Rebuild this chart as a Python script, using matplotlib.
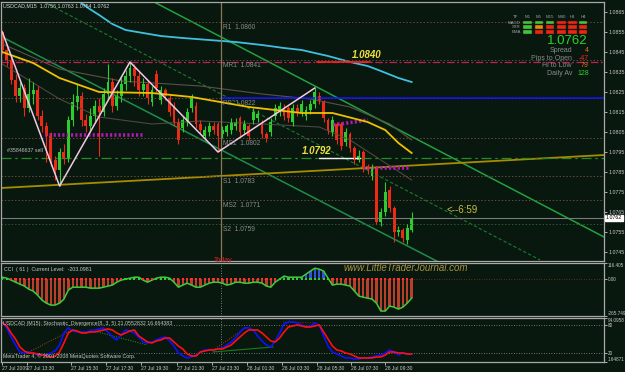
import numpy as np
import matplotlib
matplotlib.use('Agg')
import matplotlib.pyplot as plt
import matplotlib.transforms as mtransforms
from matplotlib.patches import Rectangle

plt.rcParams['font.family'] = ['Liberation Sans', 'DejaVu Sans']

# USDCAD M15 svece, bar 0..93
opens = [1.0855, 1.0846, 1.0841, 1.0831, 1.0823, 1.0827, 1.0817, 1.0824, 1.0826, 1.0813,
         1.0808, 1.0803, 1.0791, 1.0786, 1.0795, 1.0792, 1.0811, 1.0820, 1.0823, 1.0811,
         1.0808, 1.0813, 1.0818, 1.0815, 1.0824, 1.0830, 1.0818, 1.0823, 1.0829, 1.0833,
         1.0837, 1.0833, 1.0826, 1.0829, 1.0820, 1.0834, 1.0821, 1.0826, 1.0822, 1.0818,
         1.0810, 1.0807, 1.0810, 1.0817, 1.0818, 1.0809, 1.0803, 1.0805, 1.0808, 1.0809,
         1.0804, 1.0805, 1.0806, 1.0808, 1.0812, 1.0806, 1.0808, 1.0811, 1.0812, 1.0809,
         1.0804, 1.0805, 1.0813, 1.0815, 1.0817, 1.0817, 1.0810, 1.0817, 1.0815, 1.0813,
         1.0816, 1.0819, 1.0823, 1.0820, 1.0811, 1.0805, 1.0809, 1.0809, 1.0800, 1.0804,
         1.0797, 1.0791, 1.0795, 1.0788, 1.0783, 1.0787, 1.0760, 1.0765, 1.0776, 1.0767,
         1.0755, 1.0756, 1.0751, 1.0756]
closes = [1.0846, 1.0841, 1.0831, 1.0823, 1.0827, 1.0817, 1.0824, 1.0826, 1.0813, 1.0808,
          1.0803, 1.0791, 1.0786, 1.0795, 1.0792, 1.0811, 1.0820, 1.0823, 1.0811, 1.0808,
          1.0813, 1.0818, 1.0815, 1.0824, 1.0830, 1.0818, 1.0823, 1.0829, 1.0833, 1.0837,
          1.0833, 1.0826, 1.0829, 1.0822, 1.0826, 1.0827, 1.0826, 1.0823, 1.0815, 1.0810,
          1.0801, 1.0811, 1.0815, 1.0822, 1.0809, 1.0806, 1.0806, 1.0808, 1.0806, 1.0803,
          1.0806, 1.0808, 1.0810, 1.0810, 1.0805, 1.0809, 1.0803, 1.0815, 1.0814, 1.0804,
          1.0802, 1.0810, 1.0817, 1.0818, 1.0813, 1.0812, 1.0817, 1.0815, 1.0819, 1.0816,
          1.0819, 1.0825, 1.0821, 1.0812, 1.0806, 1.0811, 1.0801, 1.0798, 1.0805, 1.0797,
          1.0791, 1.0793, 1.0787, 1.0786, 1.0787, 1.0760, 1.0765, 1.0775, 1.0767, 1.0755,
          1.0756, 1.0752, 1.0757, 1.0762]
highs = [1.0856, 1.0849, 1.0843, 1.0834, 1.0830, 1.0829, 1.0832, 1.0830, 1.0828, 1.0816,
         1.0810, 1.0805, 1.0793, 1.0797, 1.0799, 1.0813, 1.0824, 1.0829, 1.0825, 1.0814,
         1.0817, 1.0821, 1.0822, 1.0827, 1.0839, 1.0832, 1.0826, 1.0832, 1.0836, 1.0840,
         1.0839, 1.0835, 1.0832, 1.0831, 1.0828, 1.0836, 1.0828, 1.0827, 1.0824, 1.0820,
         1.0812, 1.0813, 1.0817, 1.0824, 1.0820, 1.0811, 1.0808, 1.0810, 1.0810, 1.0810,
         1.0808, 1.0809, 1.0812, 1.0812, 1.0813, 1.0811, 1.0809, 1.0817, 1.0816, 1.0811,
         1.0805, 1.0812, 1.0819, 1.0820, 1.0819, 1.0818, 1.0819, 1.0819, 1.0821, 1.0818,
         1.0821, 1.0827, 1.0825, 1.0821, 1.0812, 1.0813, 1.0810, 1.0810, 1.0807, 1.0805,
         1.0798, 1.0796, 1.0796, 1.0789, 1.0789, 1.0788, 1.0767, 1.0780, 1.0778, 1.0768,
         1.0758, 1.0757, 1.0759, 1.0765]
lows = [1.0844, 1.0838, 1.0829, 1.0820, 1.0820, 1.0813, 1.0815, 1.0819, 1.0811, 1.0805,
        1.0790, 1.0788, 1.0781, 1.0778, 1.0789, 1.0790, 1.0808, 1.0816, 1.0808, 1.0805,
        1.0806, 1.0810, 1.0793, 1.0813, 1.0822, 1.0815, 1.0816, 1.0820, 1.0826, 1.0830,
        1.0828, 1.0823, 1.0823, 1.0819, 1.0818, 1.0825, 1.0819, 1.0821, 1.0813, 1.0808,
        1.0799, 1.0805, 1.0808, 1.0815, 1.0807, 1.0804, 1.0801, 1.0803, 1.0804, 1.0795,
        1.0802, 1.0803, 1.0804, 1.0806, 1.0803, 1.0804, 1.0801, 1.0809, 1.0810, 1.0802,
        1.0800, 1.0803, 1.0811, 1.0813, 1.0811, 1.0810, 1.0808, 1.0813, 1.0813, 1.0811,
        1.0814, 1.0817, 1.0819, 1.0810, 1.0804, 1.0803, 1.0799, 1.0796, 1.0798, 1.0795,
        1.0789, 1.0790, 1.0785, 1.0784, 1.0781, 1.0759, 1.0758, 1.0763, 1.0765, 1.0750,
        1.0753, 1.0750, 1.0749, 1.0755]

# CCI(61)
cci = [14, 7, -7, -22, -36, -50, -72, -86, -115, -151,
       -173, -187, -187, -173, -144, -79, -58, -58, -58, -58,
       -65, -65, -65, -58, -50, -43, -22, -7, 0, 7,
       14, 14, -7, -22, -7, 7, 14, 14, 7, -22,
       -58, -43, -29, -43, -58, -58, -43, -29, -22, -22,
       -29, -43, -36, -22, -22, -29, -29, -22, -22, -29,
       -50, -58, -22, 0, 22, 14, 14, 14, 14, 36,
       58, 79, 72, 58, 7, -43, -36, -36, -43, -50,
       -86, -122, -130, -137, -144, -173, -230, -230, -194, -202,
       -216, -202, -173, -137]

# Stochastic %K (plava) i %D (crvena)
stoch_k = [85.7, 73.1, 54.2, 37.4, 22.7, 20.6, 22.7, 20.6, 16.4, 16.4,
           16.4, 20.6, 24.8, 37.4, 62.6, 73.1, 66.8, 64.7, 64.7, 64.7,
           66.8, 68.9, 71.0, 73.1, 64.7, 54.2, 47.9, 58.4, 68.9, 66.8,
           62.6, 54.2, 43.7, 41.6, 43.7, 47.9, 52.1, 54.2, 45.8, 35.3,
           20.6, 14.3, 10.1, 12.2, 16.4, 22.7, 26.9, 26.9, 26.9, 29.0,
           31.1, 37.4, 43.7, 52.1, 64.7, 73.1, 73.1, 68.9, 56.3, 45.8,
           37.4, 33.2, 45.8, 62.6, 81.5, 85.7, 85.7, 83.6, 79.4, 75.2,
           77.3, 83.6, 79.4, 56.3, 35.3, 22.7, 18.5, 14.3, 10.1, 10.1,
           8.0, 8.0, 10.1, 10.1, 12.2, 14.3, 16.4, 20.6, 26.9, 22.7,
           16.4, 20.6, 18.5, 18.5]
stoch_d = [83.6, 77.3, 62.6, 50.0, 33.2, 24.8, 20.6, 20.6, 18.5, 16.4,
           14.3, 12.2, 14.3, 22.7, 41.6, 62.6, 68.9, 66.8, 62.6, 62.6,
           64.7, 64.7, 66.8, 68.9, 71.0, 68.9, 62.6, 58.4, 62.6, 66.8,
           68.9, 56.3, 50.0, 43.7, 41.6, 45.8, 47.9, 52.1, 52.1, 43.7,
           35.3, 29.0, 18.5, 14.3, 14.3, 22.7, 24.8, 26.9, 26.9, 29.0,
           29.0, 33.2, 37.4, 45.8, 54.2, 62.6, 68.9, 68.9, 68.9, 62.6,
           54.2, 45.8, 43.7, 52.1, 64.7, 75.2, 77.3, 79.4, 77.3, 75.2,
           75.2, 77.3, 79.4, 64.7, 50.0, 35.3, 26.9, 24.8, 20.6, 18.5,
           14.3, 10.1, 10.1, 10.1, 10.1, 12.2, 12.2, 16.4, 22.7, 22.7,
           20.6, 20.6, 18.5, 18.5]

# zigzag i pokretni proseci (bar, cena)
zz_bars = [0, 13, 29, 49, 71]
zz_prices = [1.0855, 1.0778, 1.0840, 1.0795, 1.0827]
ma_yel_bars = [0, 7, 13, 22, 34, 43, 56, 68, 75, 83, 87, 90, 93]
ma_yel_vals = [1.0845, 1.08395, 1.0832, 1.0825, 1.08245, 1.08225, 1.08175, 1.08145, 1.08145, 1.0810, 1.0806, 1.07995, 1.07945]
ma_cyan_bars = [17, 19.5, 22, 25, 28, 32, 36, 41, 47, 53, 59, 64, 68, 74, 79, 83, 86, 90, 93]
ma_cyan_vals = [1.0871, 1.0867, 1.08635, 1.0859, 1.0856, 1.08545, 1.0853, 1.0852, 1.0851, 1.085,
                1.08485, 1.0847, 1.0846, 1.0843, 1.0840, 1.0838, 1.08355, 1.0832, 1.0830]
env_up_bars = [0, 13, 27, 45, 59, 70, 79, 88, 93]
env_up_vals = [1.0849, 1.08365, 1.08305, 1.0828, 1.0824, 1.08215, 1.08175, 1.0809, 1.0801]
env_lo_bars = [0, 13, 22, 34, 45, 59, 72, 79, 86, 93]
env_lo_vals = [1.0839, 1.08215, 1.08125, 1.0809, 1.08105, 1.0809, 1.08075, 1.0801, 1.0791, 1.0781]

# trend linije (bar, cena)
ch_upper = ([33.6, 136.7], [1.0871, 1.07525])
ch_lower = ([-0.5, 100.0], [1.0853, 1.0739])
ch_mid = ([8.6, 122.2], [1.0871, 1.0741])
olive_line = ([-0.3, 136.7], [1.0777, 1.07935])

pivots = [('R1', 1.0860), ('MR1', 1.0841), ('PP', 1.0822), ('MS1', 1.0802),
          ('S1', 1.0783), ('MS2', 1.0771), ('S2', 1.0759)]
today_bar = 49.6
last_price = 1.0762

tick_pos = [0, 5.6, 15.6, 23.6, 31.6, 39.6, 47.6, 55.6, 63.6, 71.6, 79.2, 87]
tick_lbl = ['27 Jul 2009', '27 Jul 13:30', '27 Jul 15:30', '27 Jul 17:30', '27 Jul 19:30',
            '27 Jul 21:30', '27 Jul 23:30', '28 Jul 01:30', '28 Jul 03:30', '28 Jul 05:30',
            '28 Jul 07:30', '28 Jul 09:30']

tf_names = ['M1', 'M5', 'M15', 'M30', 'H1', 'H4']
sig_rows = ['MACD', 'STR', 'EMA']
sig_state = [['up', 'up', 'up', 'dn', 'dn', 'up'],
             ['up', 'mix', 'dn', 'dn', 'dn', 'dn'],
             ['up', 'dn', 'dn', 'dn', 'dn', 'dn']]

BG = '#08180e'
GREEN = '#2ecc2e'
RED = '#ec2a18'
GRID = '#a8a8a8'
W, H = 625.0, 372.0
FS = 3.8

fig = plt.figure(figsize=(6.25, 3.72), dpi=100, facecolor=BG)
def box(top, bottom):
    return [1 / W, 1 - bottom / H, 603 / W, (bottom - top) / H]
ax = fig.add_axes(box(2, 261))
ax2 = fig.add_axes(box(263, 316))
ax3 = fig.add_axes(box(318, 362))
xl = (-0.3, 136.7)
for a in (ax, ax2, ax3):
    a.set_facecolor(BG)
    a.set_xlim(*xl)
    for s in a.spines.values():
        s.set_color(GRID)
        s.set_linewidth(0.9)
    a.yaxis.tick_right()
    a.tick_params(axis='y', colors='#c8c8c8', labelsize=FS, length=2, pad=1, width=0.6)
    a.tick_params(axis='x', bottom=False, labelbottom=False)
for a in (ax2, ax3):
    a.tick_params(axis='y', labelsize=3.3, pad=0.8)

ax.set_ylim(1.07405, 1.0870)

# --- glavni panel ---
trans_y = mtransforms.blended_transform_factory(ax.transAxes, ax.transData)
ax.plot(*ch_mid, color='#1e7a30', lw=0.8, ls=(0, (3, 2)))
ax.plot(*ch_upper, color='#22a040', lw=1.1)
ax.plot(*ch_lower, color='#1e8c4a', lw=1.1)
ax.plot(*olive_line, color='#a88c00', lw=1.3)
ax.plot(ma_cyan_bars, ma_cyan_vals, color='#40c0e0', lw=1.3)
ax.plot(env_up_bars, env_up_vals, color='#5a5048', lw=0.8)
ax.plot(env_lo_bars, env_lo_vals, color='#4e4640', lw=0.8)

for name, lvl in pivots:
    clr = '#6a4a3a'
    if name == 'S2':
        clr = '#2d5a2d'
    ax.axhline(lvl, color=clr, lw=0.7, ls=(0, (1.5, 2)))
    ax.text(today_bar + 0.5, lvl - 0.00008, name + '  ' + '%.4f' % lvl, color='#8a8a8a',
            fontsize=4.8, va='top', ha='left')
ax.axhline(1.0840, color='#c02058', lw=0.9, ls=(0, (6, 2, 1.5, 2)))
ax.axhline(1.0822, xmin=(today_bar - xl[0]) / (xl[1] - xl[0]), color='#1414ff', lw=1.1)
ax.axhline(1.0792, color='#2a8a2a', lw=0.9, ls=(0, (8, 3, 2, 3)))
ax.axhline(last_price, color='#7a7a7a', lw=0.8)
ax.axvline(today_bar, color='#8c7850', lw=0.9)

ax.plot([71.5, 83.6], [1.0840, 1.0840], color='#ff2020', lw=1.2)
ax.plot([72, 81.3], [1.0792, 1.0792], color='#f0f0f0', lw=1.0)
ax.plot([9.7, 32], [1.08035, 1.08035], color='#b01ab0', lw=2.6, ls=(0, (0.6, 0.6)))
ax.plot([75.2, 83.1], [1.08085, 1.0811], color='#b01ab0', lw=2.6, ls=(0, (0.6, 0.6)))
ax.plot([82, 92.7], [1.0787, 1.0787], color='#b01ab0', lw=2.6, ls=(0, (0.6, 0.6)))

# svece
x = np.arange(len(opens))
o = np.array(opens)
c = np.array(closes)
cols = np.where(c >= o, GREEN, RED)
ax.vlines(x, lows, highs, colors=cols, lw=0.8)
ax.bar(x, np.maximum(np.abs(c - o), 0.00003), bottom=np.minimum(o, c), width=0.66,
       color=cols, lw=0)

ax.plot(ma_yel_bars, ma_yel_vals, color='#f0c000', lw=1.3)
ax.plot(zz_bars, zz_prices, color='#f4c8e8', lw=1.1)

ax.text(79.5, 1.0842, '1.0840', color='#f0e040', fontsize=7, style='italic', fontweight='bold')
ax.text(68, 1.0794, '1.0792', color='#f0e040', fontsize=7, style='italic', fontweight='bold')
ax.text(101, 1.07645, '<--6:59', color='#c8c040', fontsize=7)
ax.text(1, 1.0795, '#35846637 sell', color='#c0c0c0', fontsize=FS)
ax.text(today_bar - 1.5, 0, 'Today', color='#e02020', fontsize=5, va='center',
        transform=mtransforms.blended_transform_factory(ax.transData, ax.transAxes))
ax.text(0.003, 0.995, 'USDCAD,M15  1.0756 1.0763 1.0754 1.0762', color='#d8d8d8',
        fontsize=FS, va='top', transform=ax.transAxes)

ax.set_yticks(np.arange(1.0745, 1.0866, 0.001))
ax.set_yticklabels(['%.4f' % v for v in np.arange(1.0745, 1.0866, 0.001)])
ax.text(1.003, last_price, '%.4f' % last_price, transform=trans_y, fontsize=FS,
        color='black', va='center', ha='left',
        bbox=dict(boxstyle='square,pad=0.12', fc='white', ec='white'))

# info tabla gore desno
def fx(px):
    return px / W
def fy(py):
    return 1 - py / H
fig.text(fx(516), fy(17), 'TF', fontsize=3.2, color='#a0a0a0', ha='center', va='center')
col_x = [527.5, 539, 550, 561.5, 572.5, 583]
for cx, nm in zip(col_x, tf_names):
    fig.text(fx(cx), fy(17), nm, fontsize=3.2, color='#a0a0a0', ha='center', va='center')
state_col = {'up': '#3cc83c', 'dn': '#e82810', 'mix': '#e09000'}
for r, (rn, row) in enumerate(zip(sig_rows, sig_state)):
    ry = 22.5 + r * 4.7
    fig.text(fx(521), fy(ry), rn, fontsize=3.2, color='#a0a0a0', ha='right', va='center')
    for cx, st in zip(col_x, row):
        fig.add_artist(Rectangle((fx(cx - 4.3), fy(ry + 1.8)), 8.6 / W, 3.6 / H,
                                 transform=fig.transFigure, fc=state_col[st], ec='#401010', lw=0.3))
fig.text(fx(588), fy(41.5), '%.4f' % last_price, fontsize=9.5, color='#2ed02e', ha='right', va='center')
info = [('Spread', '4', '#e07020'), ('Pips to Open', '-47', '#ff2020'),
        ('Hi to Low', '79', '#e07020'), ('Daily Av', '128', '#2ed02e')]
for i, (lab, val, vc) in enumerate(info):
    yy = 50.5 + i * 7.7
    fig.text(fx(572), fy(yy), lab, fontsize=5, color='#8a8a8a', ha='right', va='center')
    fig.text(fx(589), fy(yy), val, fontsize=5, color=vc, ha='right', va='center')

# --- CCI panel ---
ax2.set_ylim(-265.749, 116.405)
cci_a = np.array(cci)
ax2.axhline(0, color='#8b3020', lw=0.6, ls=(0, (1, 2)))
ax2.axvline(today_bar, color='#a0a0a0', lw=0.6, ls=(0, (1, 2)))
ax2.bar(x, cci_a, width=0.55, color=np.where(cci_a < 0, '#b8402a', '#3050e0'), lw=0)
ax2.plot(x, cci_a, color='#3ccc3c', lw=1.1)
ax2.scatter(x, np.zeros(len(x)), marker='s', s=2.5, lw=0,
            c=np.where(cci_a < 0, '#ff3030', '#30d030'), zorder=5)
ax2.set_yticks([-265.749, 0, 116.405])
ax2.set_yticklabels(['-265.749', '0.00', '116.405'])
yl = ax2.get_yticklabels()
yl[0].set_va('bottom')
yl[2].set_va('top')
ax2.text(0.005, 0.93, 'CCI  ( 61 )  Current Level:  -203.0981', color='#c8c8c8', fontsize=FS,
         va='top', transform=ax2.transAxes)
ax2.text(77.5, 80, 'www.LittleTraderJournal.com', color='#a89040', fontsize=7,
         style='italic', va='center')

# --- Stochastic panel ---
ax3.set_ylim(1.64871, 94.0958)
ax3.axhline(80, color='#909090', lw=0.6, ls=(0, (1, 2)))
ax3.axhline(20, color='#909090', lw=0.6, ls=(0, (1, 2)))
ax3.axvline(today_bar, color='#a0a0a0', lw=0.6, ls=(0, (1, 2)))
ax3.plot([5.6, 15.8], [20.6, 68.9], color='#a05020', lw=0.7, ls=(0, (1, 1.5)))
ax3.plot([20, 32.9], [68.9, 37.4], color='#20a030', lw=0.7, ls=(0, (1, 1.5)))
ax3.plot([47.9, 55.6], [26.9, 75.2], color='#c03020', lw=0.7, ls=(0, (1, 1.5)))
ax3.plot([47.9, 61.5], [22.7, 33.2], color='#1a7a1a', lw=0.8)
ax3.plot([63.8, 71.5], [85.7, 83.6], color='#8b2020', lw=0.7, ls=(0, (1, 1.5)))
ax3.plot(x, stoch_k, color='#1010ff', lw=1.2)
ax3.plot(x, stoch_d, color='#ff1010', lw=1.2)
ax3.set_yticks([1.64871, 20, 80, 94.0958])
ax3.set_yticklabels(['1.64871', '20', '80', '94.0958'])
yl = ax3.get_yticklabels()
yl[0].set_va('bottom')
yl[3].set_va('top')
ax3.text(0.004, 0.93, 'USDCAD (M15): Stochastic_Divergence(8, 3, 5) 21.0552832 16.664383',
         color='#c8c8c8', fontsize=FS, va='top', transform=ax3.transAxes)
ax3.text(0.004, 0.06, 'MetaTrader 4, \u00a9 2001-2008 MetaQuotes Software Corp.',
         color='#c8c8c8', fontsize=FS, va='bottom', transform=ax3.transAxes)
ax3.set_xticks(tick_pos)
ax3.set_xticklabels(tick_lbl)
ax3.tick_params(axis='x', bottom=True, labelbottom=True, colors='#c8c8c8', labelsize=3.6,
                length=2, pad=1, width=0.6)
for lb in ax3.get_xticklabels():
    lb.set_ha('left')

fig.savefig('out.png', dpi=100, facecolor=BG)
